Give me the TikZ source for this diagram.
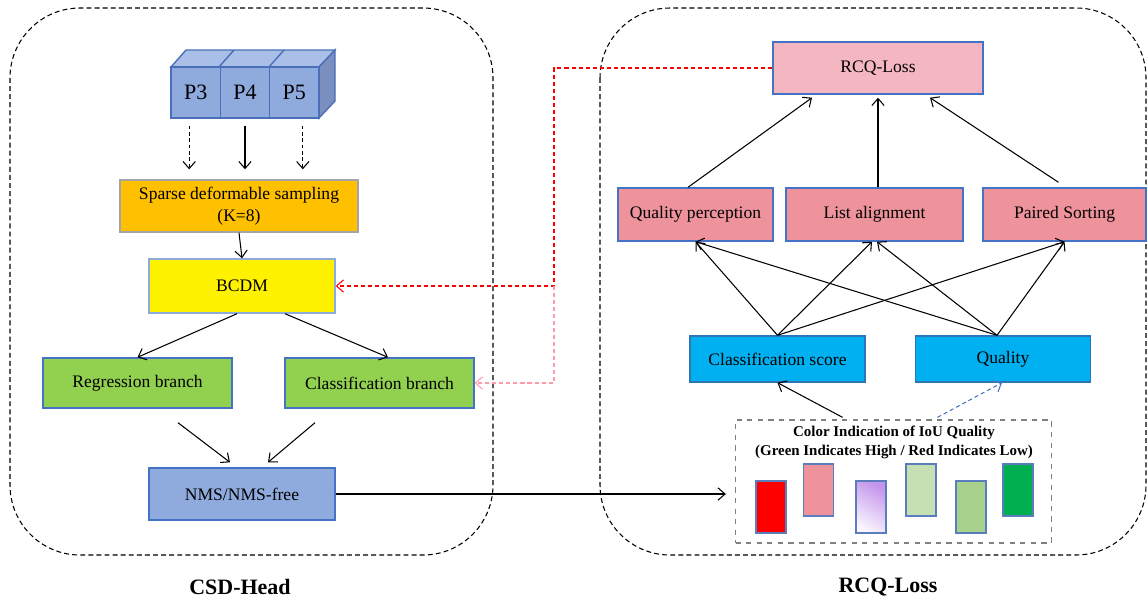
\documentclass[tikz,border=0pt]{standalone}
\usepackage{fontspec}
\setmainfont{Liberation Serif}
\usetikzlibrary{arrows.meta}
\definecolor{cubefront}{HTML}{8FAADC}
\definecolor{cubetop}{HTML}{A9BFE8}
\definecolor{cubeside}{HTML}{7A8FBF}
\definecolor{cubeline}{HTML}{4A6EB8}
\definecolor{sparsefill}{HTML}{FFC000}
\definecolor{greyline}{HTML}{A5A5A5}
\definecolor{branchfill}{HTML}{92D050}
\definecolor{boxline}{HTML}{4472C4}
\definecolor{lossfill}{HTML}{F4B6C0}
\definecolor{partfill}{HTML}{EE929B}
\definecolor{scorefill}{HTML}{00B0F0}
\definecolor{scoreline}{HTML}{2E75B6}
\definecolor{barline}{HTML}{5B7DBE}
\definecolor{barpink}{HTML}{EE929B}
\definecolor{barpurple}{HTML}{C495EC}
\definecolor{barlight}{HTML}{C6E0B4}
\definecolor{barmid}{HTML}{A9D18E}
\definecolor{bardark}{HTML}{00B050}
\definecolor{fbpink}{HTML}{FF9AA8}
\definecolor{fbblue}{HTML}{4472C4}
\tikzset{
  box/.style={draw=boxline, line width=0.8pt, inner sep=0pt, align=center,
    font=\fontsize{10}{12.5}\selectfont},
  face/.style={box, draw=cubeline, fill=cubefront, minimum width=0.99cm,
    minimum height=1.02cm, font=\fontsize{12.5}{14}\selectfont},
  bar/.style={draw=barline, line width=0.8pt, minimum width=0.6cm,
    minimum height=1.04cm, inner sep=0pt},
  arr/.style={-{Straight Barb[length=4pt,width=7pt]}, line width=0.6pt},
  panel/.style={dashed, dash pattern=on 2.8pt off 1.8pt, line width=0.6pt,
    rounded corners=1.4cm},
  caption/.style={font=\fontsize{12.5}{14}\selectfont\bfseries}
}
\begin{document}
\begin{tikzpicture}[x=0.02cm, y=-0.02cm]
      \useasboundingbox (0,0) rectangle (1148,599);
      \draw[panel] (10,8) rectangle (493,555);
      \draw[panel] (600,8) rectangle (1146,555);
      \node[caption] (headlabel) at (240,587) {CSD-Head};
      \node[caption] (losslabel) at (888,587) {RCQ-Loss};

      \filldraw[fill=cubetop, draw=cubeline, line width=0.8pt]
        (171,67) -- (186,50) -- (335,50) -- (319,67) -- cycle;
      \draw[cubeline, line width=0.8pt] (219,67) -- (234,50) (269,67) -- (284,50);
      \filldraw[fill=cubeside, draw=cubeline, line width=0.8pt]
        (319,67) -- (335,50) -- (335,101) -- (319,118) -- cycle;
      \node[face] (p3) at (195.7,92.5) {P3};
      \node[face] (p4) at (245,92.5) {P4};
      \node[face] (p5) at (294.3,92.5) {P5};

      \node[box, draw=greyline, fill=sparsefill, minimum width=4.76cm, minimum height=1.04cm]
        (sparse) at (239,206) {Sparse deformable sampling\\(K=8)};
      \node[box, draw=cubefront, fill=yellow, minimum width=3.72cm, minimum height=1.08cm]
        (bcdm) at (242,286) {BCDM};
      \node[box, fill=branchfill, minimum width=3.78cm, minimum height=1.0cm]
        (reg) at (137.5,383) {Regression branch};
      \node[box, fill=branchfill, minimum width=3.78cm, minimum height=1.0cm]
        (cls) at (379.5,383) {Classification branch};
      \node[box, fill=cubefront, minimum width=3.72cm, minimum height=1.04cm]
        (nms) at (242,494) {NMS/NMS-free};

      \node[box, fill=lossfill, minimum width=4.2cm, minimum height=1.04cm]
        (rcq) at (878,68) {RCQ-Loss};
      \node[box, fill=partfill, minimum width=3.1cm, minimum height=1.06cm]
        (qp) at (695.5,214.5) {Quality perception};
      \node[box, fill=partfill, minimum width=3.54cm, minimum height=1.06cm]
        (la) at (874.5,214.5) {List alignment};
      \node[box, fill=partfill, minimum width=3.26cm, minimum height=1.06cm]
        (ps) at (1064.5,214.5) {Paired Sorting};
      \node[box, draw=scoreline, fill=scorefill, minimum width=3.5cm, minimum height=0.92cm]
        (cs) at (777.5,359) {Classification score};
      \node[box, draw=scoreline, fill=scorefill, minimum width=3.5cm, minimum height=0.92cm]
        (qual) at (1003,359) {Quality};

      \node[draw=gray, dashed, line width=0.8pt, minimum width=6.32cm, minimum height=2.46cm]
        (cbox) at (893.5,481.5) {};
      \node[align=center, font=\fontsize{8.5}{10.8}\selectfont\bfseries]
        (cboxtitle) at (894,442.5) {Color Indication of IoU Quality\\(Green Indicates High / Red Indicates Low)};
      \node[bar, fill=red] (bar1) at (771,507) {};
      \node[bar, fill=barpink] (bar2) at (818.5,490) {};
      \node[bar, top color=barpurple, bottom color=barpurple!10, shading angle=-30] (bar3) at (871,507) {};
      \node[bar, fill=barlight] (bar4) at (921,490) {};
      \node[bar, fill=barmid] (bar5) at (971,507) {};
      \node[bar, fill=bardark] (bar6) at (1018,490) {};

      \begin{scope}[arr]
        \draw[dashed, dash pattern=on 2pt off 1.6pt, shorten <=0.14cm, shorten >=0.2cm]
          ([xshift=-0.13cm]p3.south) -- ([xshift=-0.13cm]p3.south |- sparse.north);
        \draw[shorten <=0.14cm, shorten >=0.2cm] (p4.south) -- (p4.south |- sparse.north);
        \draw[dashed, dash pattern=on 2pt off 1.6pt, shorten <=0.14cm, shorten >=0.2cm]
          ([xshift=0.17cm]p5.south) -- ([xshift=0.17cm]p5.south |- sparse.north);
        \draw (sparse.south) -- (bcdm.north);
        \draw ([xshift=-0.1cm]bcdm.south) -- (reg.north);
        \draw ([xshift=0.86cm]bcdm.south) -- ([xshift=0.17cm]cls.north);
        \draw ([xshift=0.81cm,yshift=-0.28cm]reg.south) -- ([xshift=-0.24cm,yshift=0.1cm]nms.north);
        \draw ([xshift=-1.29cm,yshift=-0.28cm]cls.south) -- ([xshift=0.52cm,yshift=0.1cm]nms.north);
        \draw (nms.east) -- ([xshift=-0.18cm]nms.east -| cbox.west);

        \draw ([xshift=-0.15cm]qp.north) -- ([xshift=-1.32cm,yshift=-0.06cm]rcq.south);
        \draw (rcq.south |- la.north) -- ([yshift=-0.06cm]rcq.south);
        \draw ([xshift=-0.12cm,yshift=0.1cm]ps.north) -- ([xshift=1.04cm,yshift=-0.06cm]rcq.south);
        \draw (cs.north) -- (qp.south);
        \draw (cs.north) -- ([xshift=-0.05cm]la.south);
        \draw (cs.north) -- (ps.south);
        \draw ([xshift=-0.12cm]qual.north) -- (qp.south);
        \draw ([xshift=-0.12cm]qual.north) -- ([xshift=0.05cm]la.south);
        \draw ([xshift=-0.12cm]qual.north) -- (ps.south);
        \draw ([xshift=-1.02cm,yshift=0.04cm]cbox.north) -- (cs.south);
        \draw[fbblue, dashed, dash pattern=on 2.3pt off 1.7pt]
          ([xshift=0.88cm,yshift=0.04cm]cbox.north) -- ([xshift=-0.02cm]qual.south);

        \coordinate (turn) at (554,68);
        \draw[red, dashed, dash pattern=on 2.3pt off 1.7pt] (rcq.west) -- (turn) |- (bcdm.east);
        \draw[fbpink, dashed, dash pattern=on 2.3pt off 1.7pt] (turn |- bcdm.east) |- (cls.east);
      \end{scope}
    \end{tikzpicture}
\end{document}
